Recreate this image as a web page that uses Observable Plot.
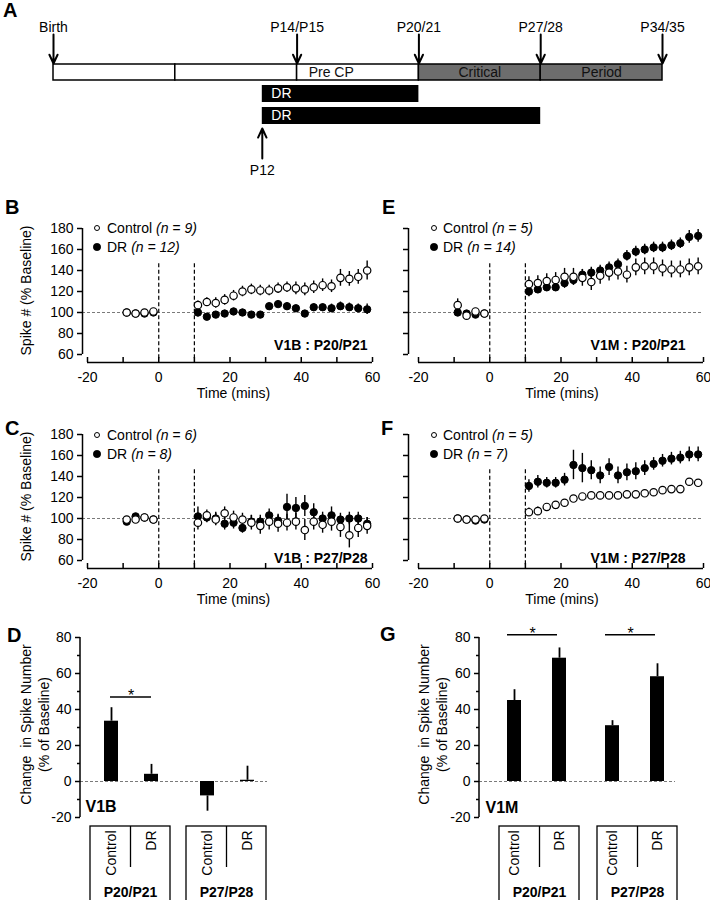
<!DOCTYPE html>
<html><head><meta charset="utf-8">
<script src="https://cdn.jsdelivr.net/npm/d3@7"></script>
<script src="https://cdn.jsdelivr.net/npm/@observablehq/plot@0.6"></script>
<style>
html,body{margin:0;padding:0;background:#fff;}
#fig{position:relative;width:710px;height:900px;overflow:hidden;background:#fff;color:#000;font-family:"Liberation Sans",Arial,Helvetica,sans-serif;}
#fig svg{overflow:visible;}
</style></head><body><div id="fig"></div>
<script>
// ---------------- DATA ----------------
// Panel A timeline (postnatal days)
const milestoneDays = [0, 14, 21, 28, 35];
const milestoneLabels = ["Birth", "P14/P15", "P20/21", "P27/28", "P34/35"];
const segStart = [0, 7, 14, 21, 28];
const segEnd = [7, 14, 21, 28, 35];
const segLabels = ["", "", "Pre CP", "Critical", "Period"];
const segKind = ["plain", "plain", "fade", "shaded", "shaded"];
const drStart = [12, 12];
const drEnd = [21, 28];
const drLabels = ["DR", "DR"];
const onsetDays = [12];
const onsetLabels = ["P12"];

// Time-course panels
const baseTimes = [-9, -6.5, -4, -1.5];
const postTimes = [11, 13.5, 16, 18.5, 21, 23.5, 26, 28.5, 31, 33.5, 36, 38.5, 41, 43.5, 46, 48.5, 51, 53.5, 56, 58.5];
const xTickMarks = [-20, -10, 0, 10, 20, 30, 40, 50, 60];
const xTickLabels = [-20, 0, 20, 40, 60];
const spikeTicks = [60, 80, 100, 120, 140, 160, 180];
const eventTimes = [0, 10];
const legendNames = ["Control", "DR"];

// B: V1B P20/P21
const bCtrl = [100, 99, 100, 101, 107, 110, 109, 112, 116, 120, 122, 121, 121, 123, 124, 123, 122, 124, 126, 125, 133, 132, 134, 140];
const bCtrlErr = [2, 2, 2, 2, 4, 4, 5, 5, 5, 5, 5, 5, 5, 5, 5, 6, 6, 6, 6, 6, 8, 7, 7, 9];
const bDR = [100, 99, 99, 100, 100, 96, 98, 99, 101, 100, 98, 98, 106, 108, 106, 104, 99, 105, 105, 104, 106, 105, 104, 103];
const bDRErr = [2, 2, 2, 2, 4, 3, 3, 3, 3, 3, 3, 3, 3, 3, 3, 3, 3, 3, 3, 4, 4, 4, 4, 5];
const bN = ["(n = 9)", "(n = 12)"];
// E: V1M P20/P21
const eCtrl = [107, 97, 101, 99, 127, 128, 130, 131, 134, 134, 133, 129, 135, 138, 139, 136, 143, 144, 144, 142, 141, 141, 143, 144];
const eCtrlErr = [6, 3, 2, 2, 7, 7, 7, 7, 8, 8, 8, 8, 8, 8, 8, 8, 8, 8, 8, 8, 8, 8, 8, 8];
const eDR = [100, 99, 98, 99, 120, 122, 124, 124, 128, 131, 136, 138, 140, 143, 146, 154, 158, 160, 162, 162, 164, 166, 172, 173];
const eDRErr = [3, 2, 2, 2, 5, 4, 4, 4, 5, 5, 5, 5, 5, 5, 5, 5, 5, 5, 5, 5, 5, 5, 6, 6];
const eN = ["(n = 5)", "(n = 14)"];
// C: V1B P27/P28
const cCtrl = [99, 99, 101, 99, 96, 103, 99, 105, 101, 99, 96, 93, 97, 95, 96, 97, 89, 97, 94, 97, 92, 84, 91, 93];
const cCtrlErr = [2, 2, 2, 2, 7, 5, 6, 6, 6, 6, 7, 8, 8, 8, 8, 8, 10, 8, 8, 9, 10, 12, 9, 8];
const cDR = [97, 102, 101, 99, 102, 101, 100, 95, 96, 91, 97, 97, 103, 98, 111, 110, 112, 106, 100, 103, 99, 100, 100, 95];
const cDRErr = [2, 2, 2, 2, 9, 5, 6, 6, 6, 5, 6, 6, 6, 6, 12, 10, 10, 8, 6, 8, 6, 6, 6, 6];
const cN = ["(n = 6)", "(n = 8)"];
// F: V1M P27/P28
const fCtrl = [100, 99, 99, 100, 106, 107, 111, 113, 115, 119, 121, 122, 122, 122, 122, 123, 123, 124, 125, 127, 128, 128, 135, 134];
const fCtrlErr = [2, 2, 2, 2, 4, 4, 3, 3, 3, 3, 2, 2, 2, 2, 2, 2, 2, 2, 2, 2, 2, 2, 2, 2];
const fDR = [100, 99, 98, 99, 131, 135, 134, 134, 137, 151, 148, 146, 141, 149, 141, 144, 145, 148, 152, 155, 157, 158, 161, 161];
const fDRErr = [2, 2, 2, 2, 6, 6, 5, 5, 6, 14, 14, 9, 8, 8, 8, 8, 8, 7, 6, 6, 6, 6, 7, 7];
const fN = ["(n = 5)", "(n = 7)"];

// Bar panels
const ageGroups = ["P20/P21", "P27/P28"];
const changeTicks = [-20, 0, 20, 40, 60, 80];
const changeMinorTicks = [-10, 10, 30, 50, 70];
const dCtrl = [33.5, -8];
const dCtrlErr = [7.5, 8.5];
const dDR = [4, 0.7];
const dDRErr = [5.5, 7.8];
const dSig = ["P20/P21"];
const gCtrl = [45, 31];
const gCtrlErr = [6, 2.8];
const gDR = [68.5, 58.2];
const gDRErr = [5.7, 7.2];
const gSig = ["P20/P21", "P27/P28"];

// ---------------- HELPERS ----------------
const FONT = '"Liberation Sans", Arial, Helvetica, sans-serif';
const fig = document.getElementById("fig");
const baseStyle = {fontFamily: FONT, fontSize: "14px", color: "black", background: "none", overflow: "visible"};
function addSvg(svg, left, top) {
  svg.style.position = "absolute"; svg.style.left = left + "px"; svg.style.top = top + "px";
  fig.appendChild(svg); return svg;
}
function addText(html, left, top, css) {
  const d = document.createElement("div");
  d.innerHTML = html;
  Object.assign(d.style, {position: "absolute", left: left + "px", top: top + "px", whiteSpace: "pre", fontFamily: FONT}, css || {});
  fig.appendChild(d); return d;
}
function addLegend(cx, cys, tx, nLabels) {
  legendNames.forEach((name, i) => {
    const filled = i === 1, r = filled ? 3.8 : 3.3, cy = cys[i];
    const c = document.createElement("div");
    Object.assign(c.style, {position: "absolute", left: (cx - r) + "px", top: (cy - r) + "px", width: 2 * r + "px", height: 2 * r + "px",
      borderRadius: "50%", boxSizing: "border-box", border: "1px solid black", background: filled ? "black" : "white"});
    fig.appendChild(c);
    addText(name + " <i>" + nLabels[i] + "</i>", tx, cy - 8, {fontSize: "14px", lineHeight: "16px"});
  });
}
function panelLetter(ch, left, top) { addText(ch, left, top, {fontSize: "20px", lineHeight: "20px", fontWeight: "bold"}); }

// ---------------- PANEL A ----------------
const milestones = milestoneDays.map((day, i) => ({day, label: milestoneLabels[i]}));
const segments = segStart.map((start, i) => ({start, end: segEnd[i], label: segLabels[i], kind: segKind[i]}));
const drPeriods = drStart.map((start, i) => ({start, end: drEnd[i], label: drLabels[i], lane: i}));
const onset = onsetDays.map((day, i) => ({day, label: onsetLabels[i]}));
const LA = {h: 185, labelY: 27, arrowTop: 34, barTop: 64, barBot: 80, drTop: [85, 107], drH: 17, onsetTip: 128, onsetTail: 158, onsetLabelY: 170};
const GRAY = "#6d6d6d";
const segRect = (kind, fill, extra) => Plot.rect(segments.filter(d => d.kind === kind),
  Object.assign({x1: "start", x2: "end", y1: LA.barTop, y2: LA.barBot, fill, stroke: "black", strokeWidth: 1.5}, extra || {}));
const plotA = Plot.plot({
  width: 710, height: LA.h, marginLeft: 53, marginRight: 48, marginTop: 0, marginBottom: 0,
  x: {domain: [0, 35], axis: null}, y: {type: "identity", axis: null}, style: baseStyle,
  marks: [
    segRect("plain", "white"),
    segRect("fade", "white", {ariaLabel: "fade"}),
    segRect("shaded", GRAY),
    Plot.text(segments.filter(d => d.label), {x: d => d.kind === "fade" ? d.start + (d.end - d.start) * 0.28 : (d.start + d.end) / 2,
      y: (LA.barTop + LA.barBot) / 2, text: "label", fill: "#111", fontSize: 14}),
    Plot.arrow(milestones, {x1: "day", x2: "day", y1: LA.arrowTop, y2: LA.barTop - 1, stroke: "black", strokeWidth: 2, headLength: 9, headAngle: 50}),
    Plot.text(milestones, {x: "day", y: LA.labelY, text: "label", fontSize: 14}),
    Plot.rect(drPeriods, {x1: "start", x2: "end", y1: d => LA.drTop[d.lane], y2: d => LA.drTop[d.lane] + LA.drH, fill: "black"}),
    Plot.text(drPeriods, {x: "start", y: d => LA.drTop[d.lane] + LA.drH / 2, text: "label", fill: "white", textAnchor: "start", dx: 9, fontSize: 14}),
    Plot.arrow(onset, {x1: "day", x2: "day", y1: LA.onsetTail, y2: LA.onsetTip, stroke: "black", strokeWidth: 2, headLength: 9, headAngle: 50}),
    Plot.text(onset, {x: "day", y: LA.onsetLabelY, text: "label", fontSize: 14})
  ]
});
{
  const s = d3.select(plotA);
  const lg = s.insert("defs", ":first-child").append("linearGradient").attr("id", "fadeGrad")
    .attr("x1", 0).attr("x2", 1).attr("y1", 0).attr("y2", 0);
  lg.append("stop").attr("offset", 0.5).attr("stop-color", "white");
  lg.append("stop").attr("offset", 1).attr("stop-color", GRAY);
  s.selectAll('g[aria-label="fade"] rect').attr("fill", "url(#fadeGrad)");
}
addSvg(plotA, 0, 0);
panelLetter("A", 3, 0);

// ---------------- TIME-COURSE PANELS ----------------
const allTimes = baseTimes.concat(postTimes);
function timeSeries(p) {
  const ppm = (p.x60 - p.xm20) / 80, ppu = (p.y60 - p.y180) / 120;
  const xmin = -20 - (p.xm20 - p.yAxisX) / ppm;
  const ymin = 60 - (p.xAxisY - p.y60) / ppu;
  const rows = (vals, errs) => allTimes.map((t, i) => ({t, v: vals[i], e: errs[i]}));
  const ctrl = rows(p.ctrl, p.ctrlErr), dr = rows(p.dr, p.drErr);
  const marks = [
    Plot.ruleY([100], {x1: xmin, x2: 60, stroke: "#7a7a7a", strokeWidth: 1.2, strokeDasharray: "3,2"}),
    Plot.ruleX(eventTimes, {y1: 56, y2: 147, stroke: "black", strokeWidth: 1.2, strokeDasharray: "4,2.5"}),
    Plot.ruleX([xmin], {y1: 60, y2: 180, strokeWidth: 1.5}),
    Plot.ruleY([ymin], {x1: -20, x2: 60, strokeWidth: 1.5}),
    Plot.ruleX(xTickMarks, {y1: ymin, y2: ymin + 5 / ppu, strokeWidth: 1.5}),
    Plot.axisY({ticks: spikeTicks, tickSize: 5, tickPadding: 4, strokeWidth: 1.5, label: null,
      tickFormat: p.yLabels ? (d => String(d)) : (() => "")}),
    Plot.axisX({ticks: xTickLabels, tickSize: 0, tickPadding: 10, label: null, tickFormat: d => String(d)}),
    Plot.text(["Time (mins)"], {frameAnchor: "bottom", dy: 31, dx: 6, textAnchor: "middle", lineAnchor: "middle", fontSize: 14}),
    Plot.text([p.tag], {frameAnchor: "bottom-right", dx: p.tagDx, dy: p.tagDy, textAnchor: "end", lineAnchor: "middle", fontWeight: "bold", fontSize: 14}),
    Plot.ruleX(dr, {x: "t", y1: d => d.v - d.e, y2: d => d.v + d.e, strokeWidth: 1.4}),
    Plot.dot(dr, {x: "t", y: "v", r: 3.7, fill: "black", stroke: "black", strokeWidth: 1}),
    Plot.ruleX(ctrl, {x: "t", y1: d => d.v - d.e, y2: d => d.v + d.e, strokeWidth: 1.4}),
    Plot.dot(ctrl, {x: "t", y: "v", r: 3.7, fill: "white", stroke: "black", strokeWidth: 1.2})
  ];
  if (p.yLabels) marks.push(Plot.text(["Spike # (% Baseline)"], {frameAnchor: "left", rotate: -90, dx: -56, dy: -5,
    textAnchor: "middle", lineAnchor: "middle", fontSize: 14}));
  const svg = Plot.plot({
    width: p.w, height: p.h,
    marginLeft: p.yAxisX - p.left, marginRight: p.left + p.w - p.x60,
    marginTop: p.y180 - p.top, marginBottom: p.top + p.h - p.xAxisY,
    x: {domain: [xmin, 60]}, y: {domain: [ymin, 180]},
    style: baseStyle, marks
  });
  addSvg(svg, p.left, p.top);
  addLegend(p.legendCx, p.legendCy, p.legendTx, p.n);
}
const leftCol = {left: 0, w: 380, yAxisX: 82, xm20: 87, x60: 372, yLabels: true, tagDx: -5, legendCx: 97, legendTx: 107};
const rightCol = {left: 355, w: 355, yAxisX: 408, xm20: 418, x60: 703, yLabels: false, tagDx: -18, legendCx: 434, legendTx: 443};
const topRow = {top: 195, h: 215, y180: 228, y60: 354, xAxisY: 362, tagDy: -17, legendCy: [228, 247]};
const midRow = {top: 401, h: 215, y180: 434, y60: 560, xAxisY: 568, tagDy: -10, legendCy: [435, 454]};
timeSeries({...leftCol, ...topRow, ctrl: bCtrl, ctrlErr: bCtrlErr, dr: bDR, drErr: bDRErr, n: bN, tag: "V1B : P20/P21"});
timeSeries({...rightCol, ...topRow, ctrl: eCtrl, ctrlErr: eCtrlErr, dr: eDR, drErr: eDRErr, n: eN, tag: "V1M : P20/P21"});
timeSeries({...leftCol, ...midRow, ctrl: cCtrl, ctrlErr: cCtrlErr, dr: cDR, drErr: cDRErr, n: cN, tag: "V1B : P27/P28"});
timeSeries({...rightCol, ...midRow, ctrl: fCtrl, ctrlErr: fCtrlErr, dr: fDR, drErr: fDRErr, n: fN, tag: "V1M : P27/P28"});
panelLetter("B", 5, 197); panelLetter("E", 382, 197);
panelLetter("C", 5, 418); panelLetter("F", 381, 418);

// ---------------- BAR PANELS ----------------
function barPanel(p) {
  const step = p.band2 - p.band1;
  const po = (p.band1 - p.yAxisX) / step, pi = 1 - p.bandW / step;
  const rangeEnd = p.band2 + p.bandW + po * step;
  const marginLeft = p.yAxisX - p.left, marginRight = p.left + p.w - rangeEnd;
  const xScale = {domain: ageGroups, type: "band", paddingInner: pi, paddingOuter: po, align: 0.5, round: false, axis: null};
  const ctrl = ageGroups.map((group, i) => ({group, v: p.ctrl[i], e: p.ctrlErr[i]}));
  const dr = ageGroups.map((group, i) => ({group, v: p.dr[i], e: p.drErr[i]}));
  const sig = p.sig.map(group => ({group}));
  const half = p.bandW / 2, hw = p.barW / 2;
  const errEnd = d => d.v + (d.v < 0 ? -d.e : d.e);
  const svg = Plot.plot({
    width: p.w, height: p.h, marginLeft, marginRight, marginTop: p.y80 - p.top, marginBottom: p.top + p.h - p.yM20,
    x: xScale, y: {domain: [-20, 80]}, style: baseStyle,
    marks: [
      Plot.ruleY([0], {stroke: "#7a7a7a", strokeWidth: 1.2, strokeDasharray: "3,2", insetRight: p.zeroInsetR}),
      Plot.axisY({ticks: changeTicks, tickSize: 5, tickPadding: 4, strokeWidth: 1.5, label: null, tickFormat: d => String(d)}),
      Plot.axisY({ticks: changeMinorTicks, tickSize: 3, strokeWidth: 1.5, label: null, tickFormat: () => ""}),
      Plot.barY(ctrl, {x: "group", y: "v", fill: "black", insetLeft: half + p.dxC - hw, insetRight: half - p.dxC - hw}),
      Plot.barY(dr, {x: "group", y: "v", fill: "black", insetLeft: half + p.dxD - hw, insetRight: half - p.dxD - hw}),
      Plot.ruleX(ctrl, {x: "group", y1: "v", y2: errEnd, dx: p.dxC, strokeWidth: 1.8}),
      Plot.ruleX(dr, {x: "group", y1: "v", y2: errEnd, dx: p.dxD, strokeWidth: 1.8}),
      Plot.tickY(sig, {x: "group", y: p.sigY, insetLeft: p.sigInsetL, insetRight: p.sigInsetR, strokeWidth: 1.5}),
      Plot.text(sig, {x: "group", y: p.sigY, text: () => "*", dx: (p.sigInsetL - p.sigInsetR) / 2, dy: 4, lineAnchor: "bottom", fontSize: 16}),
      Plot.text([p.tag], {frameAnchor: "bottom-left", dx: p.tagDx, dy: p.tagDy, textAnchor: "start", lineAnchor: "middle", fontWeight: "bold", fontSize: 16}),
      Plot.text(["Change  in Spike Number\n(% of Baseline)"], {frameAnchor: "left", rotate: -90, dx: p.titleDx, dy: -3,
        textAnchor: "middle", lineAnchor: "middle", fontSize: 14, lineHeight: 1.3})
    ]
  });
  d3.select(svg).append("line").attr("x1", marginLeft).attr("x2", marginLeft)
    .attr("y1", p.y80 - p.top).attr("y2", p.yM20 - p.top).attr("stroke", "black").attr("stroke-width", 1.5);
  addSvg(svg, p.left, p.top);

  // category boxes under the bars
  const groups = ageGroups.map(group => ({group}));
  const lab = Plot.plot({
    width: p.w, height: 80, marginLeft, marginRight, marginTop: 0, marginBottom: 0,
    x: xScale, y: {type: "identity", axis: null}, style: baseStyle,
    marks: [
      Plot.barY(groups, {x: "group", y1: 6, y2: 95, fill: "none", stroke: "black", strokeWidth: 1.3}),
      Plot.ruleX(groups, {x: "group", y1: 6, y2: 47, strokeWidth: 1.3}),
      Plot.text(groups, {x: "group", y: 10, text: () => legendNames[0], rotate: -90, textAnchor: "end", lineAnchor: "middle", dx: p.dxC, fontSize: 14}),
      Plot.text(groups, {x: "group", y: 10, text: () => legendNames[1], rotate: -90, textAnchor: "end", lineAnchor: "middle", dx: p.dxD, fontSize: 14}),
      Plot.text(groups, {x: "group", y: 72, text: "group", lineAnchor: "middle", fontWeight: "bold", fontSize: 14})
    ]
  });
  addSvg(lab, p.left, 820);
}
const barRow = {top: 620, h: 200, y80: 637, yM20: 817, bandW: 80, barW: 14};
barPanel({...barRow, left: 0, w: 355, yAxisX: 80, band1: 90, band2: 186, dxC: -19, dxD: 21, zeroInsetR: 9,
  ctrl: dCtrl, ctrlErr: dCtrlErr, dr: dDR, drErr: dDRErr, sig: dSig, sigY: 47, sigInsetL: 20, sigInsetR: 19,
  tag: "V1B", tagDx: 5, tagDy: -11, titleDx: -46});
barPanel({...barRow, left: 355, w: 355, yAxisX: 479, band1: 499, band2: 597, dxC: -25, dxD: 20, zeroInsetR: 22,
  ctrl: gCtrl, ctrlErr: gCtrlErr, dr: gDR, drErr: gDRErr, sig: gSig, sigY: 81.5, sigInsetL: 8, sigInsetR: 22,
  tag: "V1M", tagDx: 6, tagDy: -10, titleDx: -47});
panelLetter("D", 7, 625); panelLetter("G", 380, 624);
</script></body></html>
